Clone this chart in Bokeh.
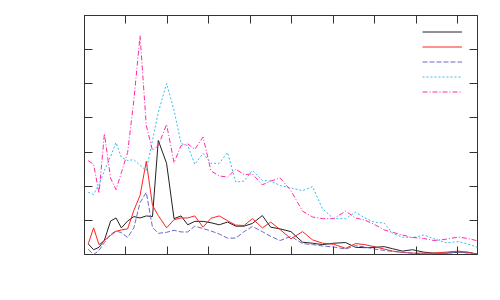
from bokeh.plotting import figure
from bokeh.models import Range1d, LinearAxis, FixedTicker, Legend, LegendItem
from bokeh.embed import file_html
from bokeh.resources import INLINE

# shared x positions of the samples
X = [0.9, 2.2, 3.5, 4.8, 6.3, 7.6, 8.9, 10.4, 11.9, 13.4, 14.9, 16.4, 17.8, 19.8,
     21.6, 23.3, 24.9, 26.6, 28.6, 30.5, 32.5, 34.5, 36.5, 38.5, 40.5, 42.9, 44.9,
     47.2, 49.8, 52.6, 55.0, 57.4, 60.1, 63.0, 65.4, 67.6, 69.9, 72.3, 74.3, 76.7,
     79.1, 81.8, 84.3, 87.3, 90.2, 92.4, 94.8]

S1 = [3.1, 1.4, 2.1, 4.2, 9.8, 10.7, 7.8, 9.8, 11.1, 10.7, 11.3, 11.1, 33.4, 26.7,
      10.5, 11.3, 8.7, 9.7, 9.7, 9.3, 8.7, 9.5, 8.3, 8.3, 9.1, 11.4, 8.0,
      7.5, 6.7, 3.6, 3.3, 2.9, 3.3, 3.5, 2.1, 2.0, 2.1, 2.3, 1.7, 1.0,
      1.4, 0.7, 0.4, 0.4, 0.7, 0.7, 0.1]

S2 = [3.1, 7.8, 2.9, 4.1, 5.6, 6.8, 7.2, 7.5, 12.9, 17.3, 27.3, 14.4, 11.4, 7.8,
      10.2, 10.7, 10.7, 11.3, 8.0, 10.6, 11.3, 9.9, 8.6, 8.5, 10.5, 7.8, 9.5,
      7.3, 4.6, 6.7, 4.3, 3.3, 3.0, 1.8, 3.2, 2.9, 2.3, 1.6, 1.0, 0.6,
      0.4, 0.4, 0.4, 0.7, 1.0, 0.6, 0.1]

S3 = [1.5, 0.0, 1.2, 3.5, 5.9, 6.9, 6.4, 5.0, 7.8, 15.2, 18.2, 8.0, 6.2, 6.5,
      7.1, 6.6, 6.6, 8.3, 7.6, 6.9, 6.0, 4.8, 4.8, 6.7, 8.2, 6.7, 5.3,
      4.1, 5.3, 3.2, 2.9, 2.5, 2.2, 1.6, 2.6, 2.2, 1.6, 1.2, 0.9, 0.7,
      0.4, 0.2, 0.2, 0.4, 0.7, 0.4, 0.1]

S4 = [18.2, 17.6, 20.5, 24.6, 28.7, 32.8, 28.4, 27.5, 27.8, 26.1, 24.6, 33.4, 41.6, 50.1,
      42.2, 32.5, 31.9, 26.4, 29.6, 26.7, 26.7, 29.9, 21.2, 21.5, 24.6, 21.7, 21.5,
      20.2, 19.5, 18.7, 19.9, 13.4, 10.5, 10.5, 12.4, 10.7, 9.5, 9.2, 6.2, 5.1,
      4.9, 5.7, 4.6, 3.4, 3.8, 3.1, 2.1]

S5 = [27.5, 26.4, 17.9, 35.4, 22.3, 19.0, 24.0, 29.9, 45.1, 64.1, 37.8, 30.5, 31.9, 38.1,
      26.9, 31.9, 32.4, 30.8, 34.4, 24.5, 23.0, 22.7, 25.0, 23.4, 23.6, 20.4, 21.5,
      22.4, 18.7, 12.7, 11.0, 10.5, 10.5, 12.7, 10.7, 10.1, 8.8, 7.2, 6.5, 5.7,
      5.0, 4.7, 4.1, 4.5, 5.1, 4.7, 4.0]

X_TICKS = [0, 10, 20, 30, 40, 50, 60, 70, 80, 90]
Y_TICKS = [0, 10, 20, 30, 40, 50, 60, 70]

p = figure(frame_width=393, frame_height=239, output_backend="svg",
           toolbar_location=None, x_range=Range1d(0, 94.8), y_range=Range1d(0, 70),
           min_border_left=84, min_border_top=15, min_border_right=8,
           min_border_bottom=30, x_axis_location=None, y_axis_location=None)
p.grid.visible = False
p.outline_line_color = "#333333"
p.outline_line_width = 1
p.background_fill_color = "white"
p.border_fill_color = "white"

for loc, tick in (("below", X_TICKS), ("above", X_TICKS), ("left", Y_TICKS), ("right", Y_TICKS)):
    ax = LinearAxis(ticker=FixedTicker(ticks=tick))
    ax.axis_line_color = None
    ax.major_tick_in = 8
    ax.major_tick_out = 0
    ax.major_tick_line_color = "#333333"
    ax.minor_tick_in = 0
    ax.minor_tick_out = 0
    ax.major_label_text_color = None
    ax.major_label_text_font_size = "1px"
    ax.major_label_standoff = 0
    p.add_layout(ax, loc)

styles = [
    (S1, "#222222", "solid"),
    (S2, "#ff2222", "solid"),
    (S3, "#6a6ac8", "5 2"),
    (S4, "#33bbee", "2 2"),
    (S5, "#ff2aa8", "5 2 1 2"),
]
items = []
for ys, col, dash in styles:
    r = p.line(X, ys, line_color=col, line_width=1, line_dash=dash)
    items.append(LegendItem(label=" ", renderers=[r]))

legend = Legend(items=items, location=(338, 155), glyph_width=40, glyph_height=15,
                label_width=0, label_height=15, label_standoff=0, padding=0, spacing=0,
                margin=0, border_line_color=None, background_fill_alpha=0,
                label_text_font_size="1px")
p.add_layout(legend, "center")

open("out.html", "w").write(file_html(p, INLINE))
